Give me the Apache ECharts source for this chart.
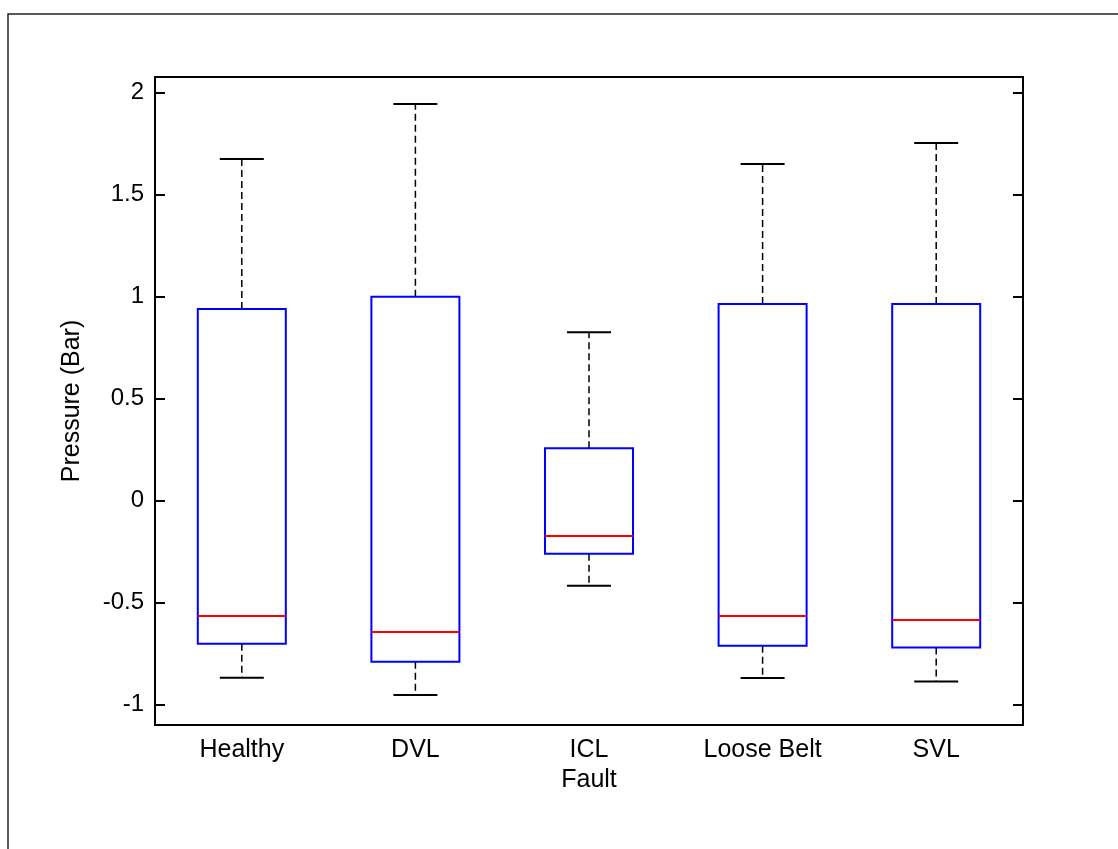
<!DOCTYPE html>
<html>
<head>
<meta charset="utf-8">
<script src="https://cdn.jsdelivr.net/npm/echarts@6/dist/echarts.min.js"></script>
<style>
html,body{margin:0;padding:0;background:#fff;}
#chart{width:1118px;height:849px;}
</style>
</head>
<body>
<div id="chart"></div>
<script>
const categories = ['Healthy', 'DVL', 'ICL', 'Loose Belt', 'SVL'];
const lowerWhisker = [-0.868, -0.953, -0.417, -0.869, -0.887];
const q1 = [-0.702, -0.790, -0.261, -0.712, -0.720];
const median = [-0.565, -0.644, -0.173, -0.565, -0.585];
const q3 = [0.940, 1.000, 0.257, 0.964, 0.964];
const upperWhisker = [1.675, 1.945, 0.825, 1.650, 1.753];
const yTicks = [-1, -0.5, 0, 0.5, 1, 1.5, 2];

const boxData = categories.map((c, i) => [i, lowerWhisker[i], q1[i], median[i], q3[i], upperWhisker[i]]);

const chart = echarts.init(document.getElementById('chart'), null, {renderer: 'canvas'});
const font = 'Arial, "Liberation Sans", sans-serif';
const FS = 24;
const FSX = 25;

function renderBox(params, api) {
  const idx = api.value(0);
  const bw = api.size([1, 0])[0] * 0.507;
  const capW = bw / 2;
  const pLow = api.coord([idx, api.value(1)]);
  const pQ1 = api.coord([idx, api.value(2)]);
  const pMed = api.coord([idx, api.value(3)]);
  const pQ3 = api.coord([idx, api.value(4)]);
  const pHigh = api.coord([idx, api.value(5)]);
  const x = pQ1[0];
  const dash = {stroke: '#000', lineWidth: 1.5, lineDash: [7, 4]};
  const solid = {stroke: '#000', lineWidth: 2};
  return {
    type: 'group',
    children: [
      {type: 'line', shape: {x1: x, y1: pQ3[1], x2: x, y2: pHigh[1]}, style: dash},
      {type: 'line', shape: {x1: x, y1: pQ1[1], x2: x, y2: pLow[1]}, style: dash},
      {type: 'line', shape: {x1: x - capW / 2, y1: pHigh[1], x2: x + capW / 2, y2: pHigh[1]}, style: solid},
      {type: 'line', shape: {x1: x - capW / 2, y1: pLow[1], x2: x + capW / 2, y2: pLow[1]}, style: solid},
      {type: 'rect', shape: {x: x - bw / 2, y: pQ3[1], width: bw, height: pQ1[1] - pQ3[1]},
        style: {fill: 'none', stroke: '#0000ff', lineWidth: 2}},
      {type: 'line', shape: {x1: x - bw / 2, y1: pMed[1], x2: x + bw / 2, y2: pMed[1]},
        style: {stroke: '#ff0000', lineWidth: 2}}
    ]
  };
}

chart.setOption({
  animation: false,
  backgroundColor: '#fff',
  graphic: [{
    type: 'rect', z: -1, silent: true,
    shape: {x: 8, y: 14, width: 1200, height: 900},
    style: {fill: 'none', stroke: '#222', lineWidth: 1.5}
  }],
  grid: {left: 155, top: 77, right: 95, bottom: 124, containLabel: false},
  xAxis: [{
    type: 'category', data: categories, position: 'bottom',
    name: 'Fault', nameLocation: 'middle', nameGap: 41,
    nameTextStyle: {fontSize: FSX, color: '#000', fontFamily: font},
    axisLine: {onZero: false, lineStyle: {color: '#000', width: 2}},
    axisTick: {show: false},
    axisLabel: {fontSize: FSX, color: '#000', fontFamily: font, margin: 13},
    splitLine: {show: false}
  }, {
    type: 'category', data: categories, position: 'top',
    axisLine: {onZero: false, lineStyle: {color: '#000', width: 2}},
    axisTick: {show: false}, axisLabel: {show: false}, splitLine: {show: false}
  }],
  yAxis: [{
    type: 'value', min: -1.1, max: 2.077, position: 'left',
    name: 'Pressure (Bar)', nameLocation: 'middle', nameGap: 70,
    nameTextStyle: {fontSize: FSX, color: '#000', fontFamily: font},
    axisLine: {show: true, onZero: false, lineStyle: {color: '#000', width: 2}},
    axisTick: {show: true, inside: true, length: 10, customValues: yTicks, lineStyle: {color: '#000', width: 2}},
    axisLabel: {fontSize: FS, color: '#000', fontFamily: font, margin: 11, customValues: yTicks},
    splitLine: {show: false}
  }, {
    type: 'value', min: -1.1, max: 2.077, position: 'right',
    axisLine: {show: true, onZero: false, lineStyle: {color: '#000', width: 2}},
    axisTick: {show: true, inside: true, length: 10, customValues: yTicks, lineStyle: {color: '#000', width: 2}},
    axisLabel: {show: false}, splitLine: {show: false}
  }],
  series: [{
    type: 'custom',
    renderItem: renderBox,
    encode: {x: 0, y: [1, 2, 3, 4, 5]},
    data: boxData,
    clip: false
  }]
});
</script>
</body>
</html>
